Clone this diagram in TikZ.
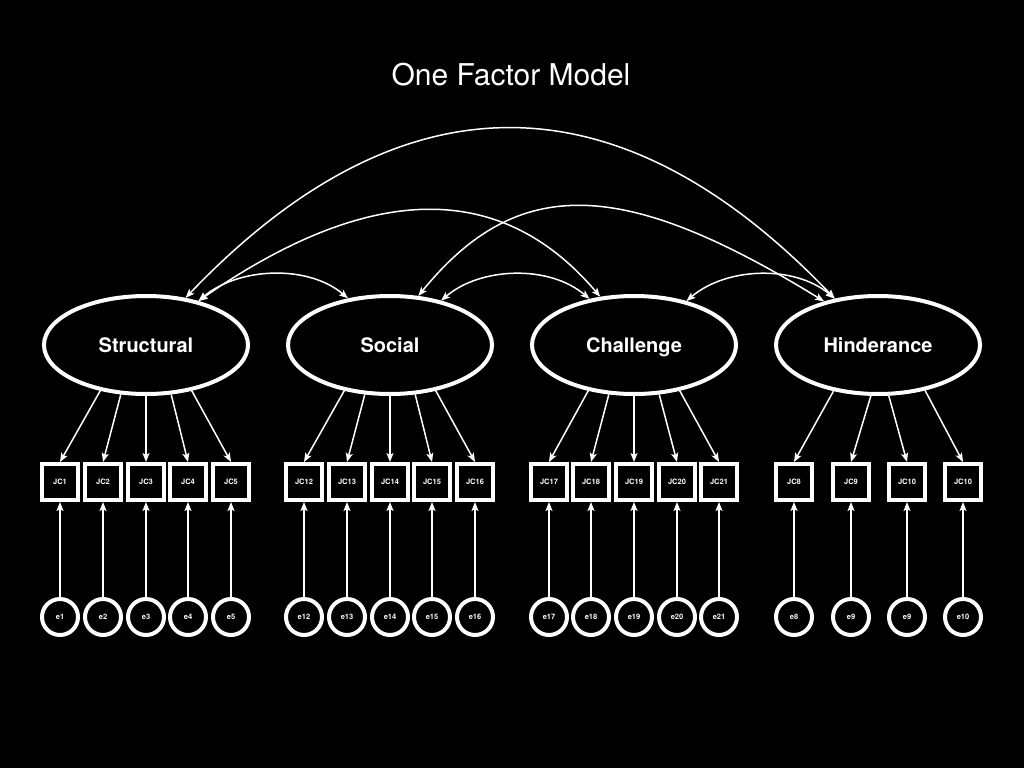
\documentclass[tikz,border=0pt]{standalone}
\usepackage{fontspec}
\setmainfont{TeX Gyre Heros}
\usetikzlibrary{shapes.geometric,arrows.meta}

\tikzset{
  latent/.style={ellipse,draw=white,line width=4pt,fill=black,text=white,
    minimum width=204pt,minimum height=98pt,inner sep=0pt,
    text height=14.4pt,text depth=0pt,
    font=\fontsize{20}{24}\selectfont\bfseries},
  ind/.style={rectangle,draw=white,line width=4pt,fill=black,text=white,
    minimum size=36pt,inner sep=0pt,text height=5.4pt,text depth=0pt,
    font=\fontsize{7.5}{9}\selectfont\bfseries},
  err/.style={circle,draw=white,line width=4pt,fill=black,text=white,
    minimum size=36pt,inner sep=0pt,text height=5.4pt,text depth=0pt,
    font=\fontsize{7.5}{9}\selectfont\bfseries},
  tip/.tip={Stealth[length=9pt,width=7pt,inset=2pt]},
  arr/.style={draw=white,line width=1.5pt,-tip},
  cov/.style={draw=white,line width=1.5pt,tip-tip}
}

\begin{document}
\begin{tikzpicture}[x=1pt,y=-1pt]
\fill[black] (0,0) rectangle (1024,768);
\useasboundingbox (0,0) rectangle (1024,768);

\node[text=white,font=\fontsize{30}{36}\selectfont] (title) at (511,75) {One Factor Model};

% factors
\node[latent] (struc) at (146,345) {Structural};
\node[latent] (soc) at (390,345) {Social};
\node[latent] (chal) at (634,345) {Challenge};
\node[latent] (hind) at (878,345) {Hinderance};

% indicators and error terms
\foreach \x/\n/\a [count=\i] in {60/1/225,103/2/243,146/3/270,188/4/297,231/5/315}{
  \node[ind] (st\i) at (\x,482) {JC\n};
  \node[err] (est\i) at (\x,617) {e\n};
  \draw[arr] (struc.\a) -- (st\i.north);
  \draw[arr] (est\i) -- (st\i);
}
\foreach \x/\n/\a [count=\i] in {304/12/225,347/13/243,390/14/270,432/15/297,475/16/315}{
  \node[ind] (so\i) at (\x,482) {JC\n};
  \node[err] (eso\i) at (\x,617) {e\n};
  \draw[arr] (soc.\a) -- (so\i.north);
  \draw[arr] (eso\i) -- (so\i);
}
\foreach \x/\n/\a [count=\i] in {549/17/225,591/18/243,634/19/270,677/20/297,719/21/315}{
  \node[ind] (ch\i) at (\x,482) {JC\n};
  \node[err] (ech\i) at (\x,617) {e\n};
  \draw[arr] (chal.\a) -- (ch\i.north);
  \draw[arr] (ech\i) -- (ch\i);
}
\foreach \x/\n/\e/\a [count=\i] in {794/8/8/226,851/9/9/262,907/10/9/282,963/10/10/316}{
  \node[ind] (hi\i) at (\x,482) {JC\n};
  \node[err] (ehi\i) at (\x,617) {e\e};
  \draw[arr] (hind.\a) -- (hi\i.north);
  \draw[arr] (ehi\i) -- (hi\i);
}

% covariances
\draw[cov] (struc.50) .. controls +(216,-226) and +(-216,-226) .. (hind.133);
\draw[cov] (struc.40) .. controls +(170,-118) and +(-100,-118) .. (chal.125);
\draw[cov] (soc.60) .. controls +(100,-123) and +(-200,-123) .. (hind.141);
\draw[cov] (struc.40) .. controls +(40,-34) and +(-40,-34) .. (soc.132);
\draw[cov] (soc.41) .. controls +(40,-34) and +(-40,-34) .. (chal.134);
\draw[cov] (chal.40) .. controls +(40,-34) and +(-40,-34) .. (hind.133);
\end{tikzpicture}
\end{document}
